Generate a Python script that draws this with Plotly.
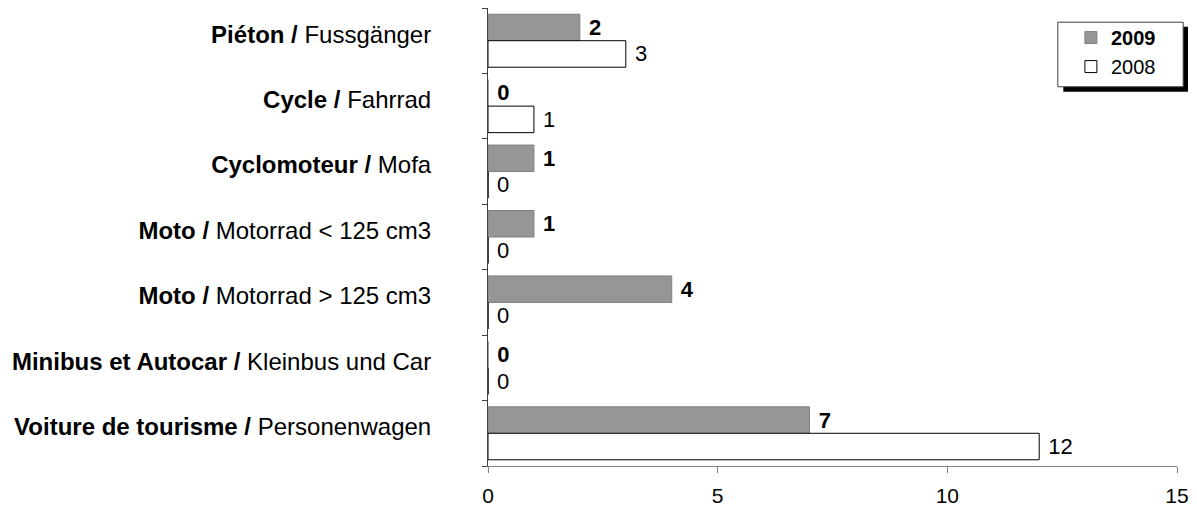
import plotly.graph_objects as go

# categories (top to bottom as shown)
cats_fr = ['Piéton', 'Cycle', 'Cyclomoteur', 'Moto', 'Moto', 'Minibus et Autocar', 'Voiture de tourisme']
cats_de = ['Fussgänger', 'Fahrrad', 'Mofa', 'Motorrad < 125 cm3', 'Motorrad > 125 cm3',
           'Kleinbus und Car', 'Personenwagen']
v2009 = [2, 0, 1, 1, 4, 0, 7]
v2008 = [3, 1, 0, 0, 0, 0, 12]

labels = ['<b>%s /</b> %s' % (f, d) for f, d in zip(cats_fr, cats_de)]
# ids so that the two "Moto" rows stay separate categories
ids = list(range(len(labels)))

fig = go.Figure()
fig.add_trace(go.Bar(
    y=ids, x=v2009, orientation='h', name='<b>2009</b>',
    marker=dict(color='#969696', line=dict(color='#808080', width=1)),
    text=v2009, texttemplate=' <b>%{x}</b>', textposition='outside',
    textfont=dict(size=22, color='black'), constraintext='none', cliponaxis=False,
))
fig.add_trace(go.Bar(
    y=ids, x=v2008, orientation='h', name='2008',
    marker=dict(color='white', line=dict(color='black', width=1)),
    text=v2008, texttemplate=' %{x}', textposition='outside',
    textfont=dict(size=22, color='black'), constraintext='none', cliponaxis=False,
))

# legend box with shadow
fig.add_shape(type='rect', xref='paper', yref='paper', x0=0.835, x1=1.016, y0=0.817, y1=0.959,
              fillcolor='black', line=dict(width=0), layer='below')
fig.add_shape(type='rect', xref='paper', yref='paper', x0=0.827, x1=1.009, y0=0.828, y1=0.969,
              fillcolor='white', line=dict(color='#404040', width=1), layer='below')

fig.update_layout(
    width=1189, height=498,
    margin=dict(l=480, r=20, t=0, b=40),
    paper_bgcolor='white', plot_bgcolor='white',
    font=dict(family='Liberation Sans, Arial', size=22, color='black'),
    barmode='group', bargap=0.19, bargroupgap=0,
    showlegend=True,
    legend=dict(x=0.846, y=0.978, xanchor='left', yanchor='top', bgcolor='rgba(0,0,0,0)',
                font=dict(size=20), tracegroupgap=0, itemwidth=30),
    xaxis=dict(range=[0, 15], tickvals=[0, 5, 10, 15], showgrid=False, zeroline=False,
               showline=True, linecolor='#808080', linewidth=1, ticks='outside', ticklen=6,
               tickcolor='#808080', ticklabelstandoff=5, tickfont=dict(size=21),
               automargin=False),
    yaxis=dict(tickvals=[i - 0.1 for i in ids], ticktext=labels, range=[6.5, -0.5],
               showgrid=False, zeroline=False, showline=True, linecolor='#404040', linewidth=1,
               ticks='', ticklabelstandoff=51, tickfont=dict(size=24), automargin=False,
               minor=dict(tickvals=[i - 0.5 for i in range(len(ids) + 1)], ticks='outside',
                          ticklen=5, tickcolor='#404040', showgrid=False)),
)
fig.write_html('out.html')
